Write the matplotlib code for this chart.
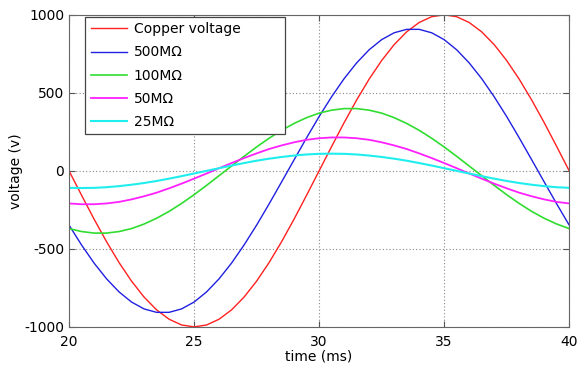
import matplotlib
matplotlib.use("Agg")
import matplotlib.pyplot as plt

plt.rcParams["axes.unicode_minus"] = False

# time axis (ms), 0.5 ms steps
time_ms = [20, 20.5, 21, 21.5, 22, 22.5, 23, 23.5, 24, 24.5,
           25, 25.5, 26, 26.5, 27, 27.5, 28, 28.5, 29, 29.5,
           30, 30.5, 31, 31.5, 32, 32.5, 33, 33.5, 34, 34.5,
           35, 35.5, 36, 36.5, 37, 37.5, 38, 38.5, 39, 39.5, 40]

copper = [0, -156, -309, -454, -588, -707, -809, -891, -951, -988,
          -1000, -988, -951, -891, -809, -707, -588, -454, -309, -156,
          0, 156, 309, 454, 588, 707, 809, 891, 951, 988,
          1000, 988, 951, 891, 809, 707, 588, 454, 309, 156, 0]

r500 = [-348, -475, -591, -692, -776, -841, -885, -907, -907, -885,
        -841, -776, -692, -591, -475, -348, -212, -71, 71, 212,
        348, 475, 591, 692, 776, 841, 885, 907, 907, 885,
        841, 776, 692, 591, 475, 348, 212, 71, -71, -212, -348]

r100 = [-370, -389, -399, -399, -389, -370, -341, -304, -260, -209,
        -153, -93, -31, 31, 93, 153, 209, 260, 304, 341,
        370, 389, 399, 399, 389, 370, 341, 304, 260, 209,
        153, 93, 31, -31, -93, -153, -209, -260, -304, -341, -370]

r50 = [-209, -214, -214, -209, -199, -183, -163, -140, -112, -82,
       -50, -17, 17, 50, 82, 112, 140, 163, 183, 199,
       209, 214, 214, 209, 199, 183, 163, 140, 112, 82,
       50, 17, -17, -50, -82, -112, -140, -163, -183, -199, -209]

r25 = [-109, -110, -109, -105, -98, -89, -78, -65, -50, -34,
       -17, 0, 17, 34, 50, 65, 78, 89, 98, 105,
       109, 110, 109, 105, 98, 89, 78, 65, 50, 34,
       17, 0, -17, -34, -50, -65, -78, -89, -98, -105, -109]

labels = ["Copper voltage", "500M\u03a9", "100M\u03a9", "50M\u03a9", "25M\u03a9"]
colors = ["#ff2020", "#2020e0", "#30dd30", "#ff20ff", "#20eeee"]
widths = [1.0, 1.0, 1.2, 1.3, 1.5]

fig = plt.figure(figsize=(5.85, 3.71), dpi=100)
ax = fig.add_axes([0.118, 0.119, 0.855, 0.841])

for y, lab, c, w in zip([copper, r500, r100, r50, r25], labels, colors, widths):
    ax.plot(time_ms, y, color=c, lw=w, label=lab)

ax.set_xlim(20, 40)
ax.set_ylim(-1000, 1000)
ax.set_xticks([20, 25, 30, 35, 40])
ax.set_yticks([-1000, -500, 0, 500, 1000])
ax.grid(True, linestyle=(0, (1, 2)), color="#888888", lw=0.8)
ax.tick_params(direction="in", top=True, right=True, labelsize=10,
               color="#555555", length=4)
ax.tick_params(axis="x", pad=6)
for s in ax.spines.values():
    s.set_color("#666666")
ax.set_xlabel("time (ms)", fontsize=10, labelpad=0)
ax.set_ylabel("voltage (v)", fontsize=10, labelpad=1)

leg = ax.legend(loc="upper left", fontsize=10, fancybox=False,
                framealpha=1, handlelength=2.6, borderaxespad=0,
                bbox_to_anchor=(0.032, 0.5, 0.4, 0.494), mode="expand",
                labelspacing=0.66, handletextpad=0.5)
leg.get_frame().set_edgecolor("#444444")
leg.get_frame().set_linewidth(0.9)

fig.savefig("out.png", dpi=100)
